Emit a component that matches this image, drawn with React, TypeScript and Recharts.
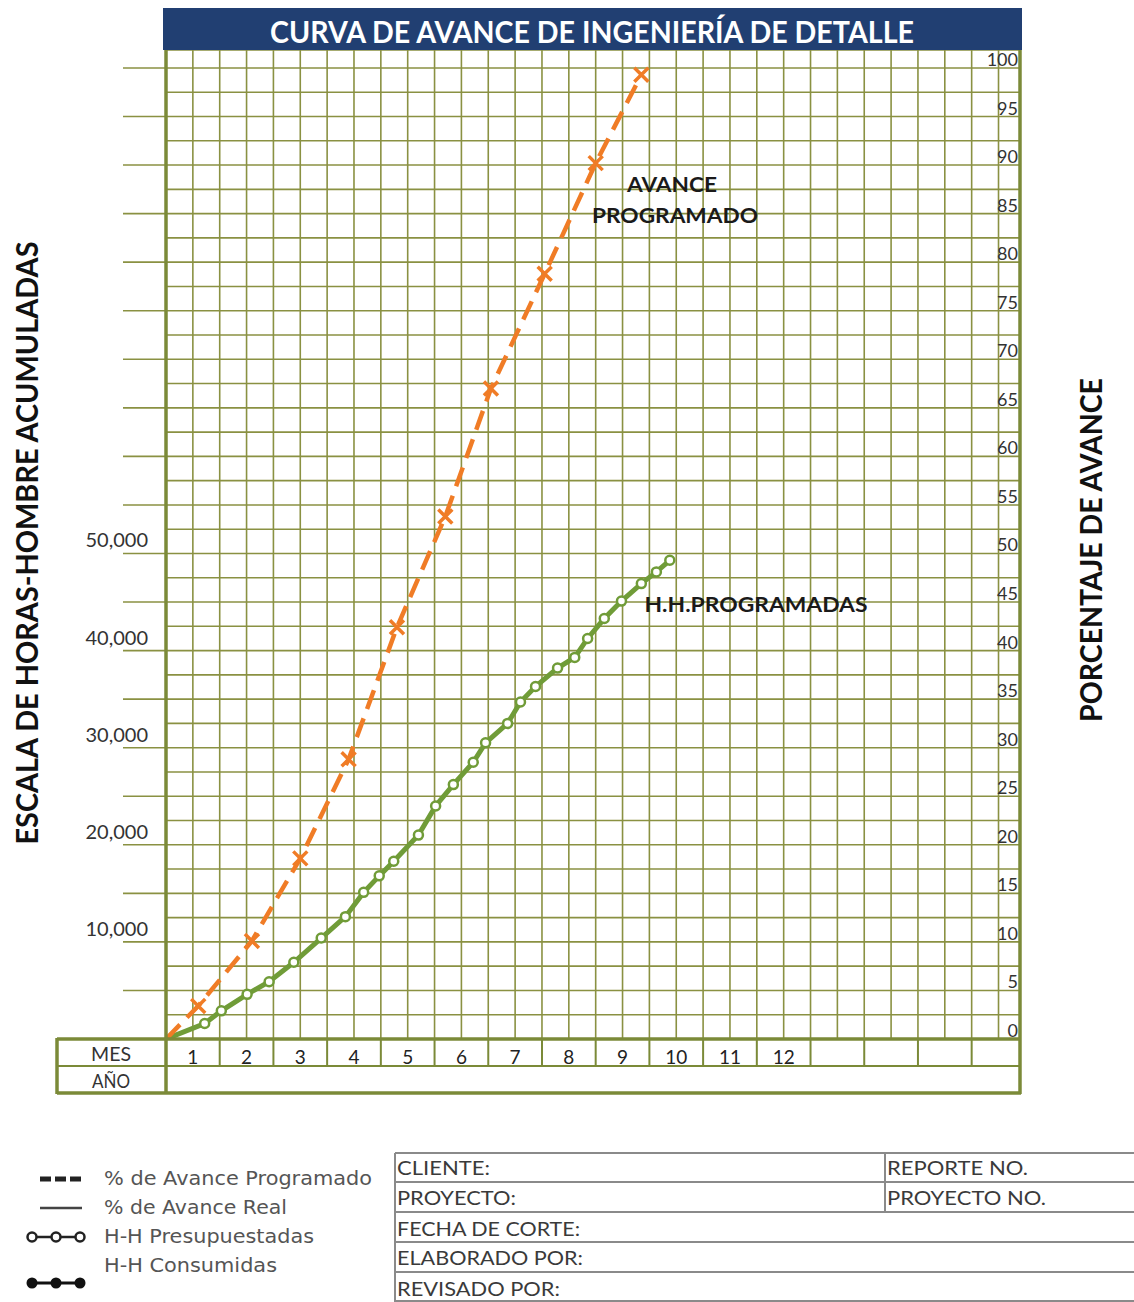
import React from 'react';
import { ComposedChart, Line, XAxis, YAxis, CartesianGrid } from 'recharts';

// lienzo y zona de graficado (px)
const W = 1134;
const H = 1302;
const PLOT_LEFT = 166;
const PLOT_RIGHT = 1020;
const PLOT_TOP = 50;
const PLOT_BOTTOM = 1039;
const AXIS_H = 54;

const MES_MAX = 15.9;
const PCT_MAX = 101.85;
const HH_MAX = PCT_MAX * 1000;

const FONT = "Lato, 'Open Sans', sans-serif";
const LEGEND_FONT = "'DejaVu Sans', Verdana, sans-serif";
const GRID = '#8a9142';
const FRAME = '#7b8a38';
const ORANGE = '#f07c26';
const GREEN = '#709c38';
const NAVY = '#213f72';

// etiquetas de meses (celdas de la fila MES)
const MESES = ['1', '2', '3', '4', '5', '6', '7', '8', '9', '10', '11', '12'];
const MES_LINEAS = [0, 1, 2, 3, 4, 5, 6, 7, 8, 9, 10, 11, 12, 13, 14, 15];

// escala derecha (%) y escala izquierda (H-H)
const PCT_LABELS = [0, 5, 10, 15, 20, 25, 30, 35, 40, 45, 50, 55, 60, 65, 70, 75, 80, 85, 90, 95, 100];
const HH_LABELS = [10000, 20000, 30000, 40000, 50000];
const HH_TICKS = [5000, 10000, 15000, 20000, 25000, 30000, 35000, 40000, 45000, 50000,
  55000, 60000, 65000, 70000, 75000, 80000, 85000, 90000, 95000, 100000];

// % de avance programado
const PROG_MES = [0, 0.6, 1.6, 2.5, 3.4, 4.3, 5.2, 6.05, 7.05, 8.0, 8.85];
const PROG_PCT = [0, 3.4, 10.1, 18.6, 28.8, 42.4, 53.8, 67.0, 78.8, 90.2, 99.3];

// H.H. programadas (acumuladas)
const HH_MES = [0, 0.72, 1.03, 1.51, 1.92, 2.38, 2.89, 3.34, 3.68, 3.97, 4.24, 4.7, 5.02, 5.35,
  5.72, 5.95, 6.36, 6.6, 6.88, 7.29, 7.61, 7.85, 8.16, 8.48, 8.85, 9.13, 9.38];
const HH_VAL = [0, 1600, 2900, 4600, 5900, 7900, 10400, 12600, 15100, 16800, 18300, 21000, 24000, 26200,
  28500, 30500, 32500, 34700, 36300, 38200, 39300, 41250, 43300, 45100, 46900, 48100, 49300];

const progData = PROG_MES.map((mes, i) => ({ mes, pct: PROG_PCT[i] }));
const hhData = HH_MES.map((mes, i) => ({ mes, hh: HH_VAL[i] }));

const X_TICKS = MES_LINEAS.flatMap((m) => [m, m + 0.5]);
const PCT_GRID = PCT_LABELS.flatMap((v) => (v < 100 ? [v, v + 2.5] : [v]));

const XTick = (props: any) => {
  const { x, y, payload } = props;
  const v = payload.value as number;
  if (Number.isInteger(v)) {
    if (v === 0) return <g />;
    return <line x1={x} x2={x} y1={y} y2={y + 27} stroke={FRAME} strokeWidth={2} />;
  }
  const label = MESES[Math.floor(v)];
  if (!label) return <g />;
  return (
    <text x={x} y={y + 17} textAnchor="middle" dominantBaseline="central" fontSize={19} fill="#222" fontFamily={FONT}>
      {label}
    </text>
  );
};

const HHTick = (props: any) => {
  const { x, y, payload } = props;
  const v = payload.value as number;
  if (!HH_LABELS.includes(v)) return <g />;
  return (
    <text x={x + 25} y={y - 14} textAnchor="end" dominantBaseline="central" fontSize={20} fill="#333" fontFamily={FONT}>
      {v.toLocaleString('en-US')}
    </text>
  );
};

const PctTick = (props: any) => {
  const { x, y, payload } = props;
  const v = payload.value as number;
  if (!PCT_LABELS.includes(v)) return <g />;
  return (
    <text x={x - 2} y={y - 9} textAnchor="end" dominantBaseline="central" fontSize={18} fill="#333" fontFamily={FONT}>
      {v}
    </text>
  );
};

const CrossDot = (props: any) => {
  const { cx, cy, index } = props;
  if (index === 0 || cx == null || cy == null) return <g key={`x${index}`} />;
  const s = 7;
  return (
    <path
      key={`x${index}`}
      d={`M${cx - s},${cy - s}L${cx + s},${cy + s}M${cx - s},${cy + s}L${cx + s},${cy - s}`}
      stroke={ORANGE}
      strokeWidth={3.5}
      fill="none"
    />
  );
};

const RingDot = (props: any) => {
  const { cx, cy, index } = props;
  if (index === 0 || cx == null || cy == null) return <g key={`o${index}`} />;
  return <circle key={`o${index}`} cx={cx} cy={cy} r={4.5} fill="#fff" stroke={GREEN} strokeWidth={2.5} />;
};

const T = (p: any) => {
  const { x, y, len, size = 20, weight = 'normal', fill = '#333', anchor = 'start', font = FONT, rot, children } = p;
  return (
    <text
      x={rot ? 0 : x}
      y={rot ? 0 : y}
      transform={rot ? `translate(${x},${y}) rotate(${rot})` : undefined}
      textAnchor={anchor}
      dominantBaseline="central"
      fontSize={size}
      fontWeight={weight}
      fill={fill}
      fontFamily={font}
      textLength={len}
      lengthAdjust="spacingAndGlyphs"
    >
      {children}
    </text>
  );
};

const tabla = [
  { t: 'CLIENTE:', y: 1167, len: 93 },
  { t: 'PROYECTO:', y: 1197, len: 119 },
  { t: 'FECHA DE CORTE:', y: 1228, len: 183 },
  { t: 'ELABORADO POR:', y: 1257, len: 186 },
  { t: 'REVISADO POR:', y: 1288, len: 163 },
];

function Overlay() {
  const rowY = [1153, 1182, 1212, 1242, 1272, 1301];
  return (
    <svg width={W} height={H} style={{ position: 'absolute', left: 0, top: 0, pointerEvents: 'none' }}>
      {/* barra de titulo */}
      <rect x={163} y={8} width={859} height={42} fill={NAVY} />
      <T x={592} y={31} len={644} size={30} weight="bold" fill="#fff" anchor="middle">
        CURVA DE AVANCE DE INGENIERÍA DE DETALLE
      </T>

      {/* marco */}
      <g stroke={FRAME} strokeWidth={3.5} fill="none">
        <line x1={PLOT_LEFT} x2={PLOT_LEFT} y1={PLOT_TOP} y2={1094} />
        <line x1={PLOT_RIGHT} x2={PLOT_RIGHT} y1={PLOT_TOP} y2={1094} />
        <line x1={57} x2={PLOT_RIGHT + 1} y1={PLOT_BOTTOM} y2={PLOT_BOTTOM} />
        <line x1={57} x2={PLOT_RIGHT + 1} y1={1093} y2={1093} />
        <line x1={57} x2={57} y1={PLOT_BOTTOM - 1} y2={1094} />
      </g>
      <line x1={57} x2={PLOT_RIGHT} y1={1066} y2={1066} stroke={FRAME} strokeWidth={2} />
      <T x={111} y={1053} size={19} anchor="middle" len={40}>MES</T>
      <T x={111} y={1080} size={19} anchor="middle" len={38}>AÑO</T>

      {/* titulos de ejes */}
      <T x={26} y={543} rot={-90} len={603} size={30} weight="bold" fill="#111" anchor="middle">
        ESCALA DE HORAS-HOMBRE ACUMULADAS
      </T>
      <T x={1090} y={550} rot={-90} len={344} size={30} weight="bold" fill="#111" anchor="middle">
        PORCENTAJE DE AVANCE
      </T>

      {/* anotaciones */}
      <T x={672} y={183} len={90} size={21} weight="bold" fill="#1a1a1a" anchor="middle">AVANCE</T>
      <T x={675} y={214} len={166} size={21} weight="bold" fill="#1a1a1a" anchor="middle">PROGRAMADO</T>
      <T x={756} y={603} len={223} size={21} weight="bold" fill="#1a1a1a" anchor="middle">H.H.PROGRAMADAS</T>

      {/* leyenda */}
      <line x1={40} x2={82} y1={1179} y2={1179} stroke="#222" strokeWidth={5} strokeDasharray="11 4" />
      <line x1={40} x2={82} y1={1208} y2={1208} stroke="#444" strokeWidth={2.5} />
      <line x1={32} x2={80} y1={1237} y2={1237} stroke="#222" strokeWidth={2.5} />
      {[32, 56, 80].map((cx) => (
        <circle key={`lp${cx}`} cx={cx} cy={1237} r={4.5} fill="#fff" stroke="#222" strokeWidth={2.5} />
      ))}
      <line x1={32} x2={80} y1={1283} y2={1283} stroke="#111" strokeWidth={3} />
      {[32, 56, 80].map((cx) => (
        <circle key={`lc${cx}`} cx={cx} cy={1283} r={5.5} fill="#111" />
      ))}
      <T x={104} y={1178} len={268} size={19} fill="#555" font={LEGEND_FONT}>% de Avance Programado</T>
      <T x={104} y={1207} len={183} size={19} fill="#555" font={LEGEND_FONT}>% de Avance Real</T>
      <T x={104} y={1236} len={210} size={19} fill="#555" font={LEGEND_FONT}>H-H Presupuestadas</T>
      <T x={104} y={1265} len={173} size={19} fill="#555" font={LEGEND_FONT}>H-H Consumidas</T>

      {/* cuadro de datos */}
      <g stroke="#8a8a8a" strokeWidth={2}>
        {rowY.map((y) => (
          <line key={`r${y}`} x1={395} x2={W} y1={y} y2={y} />
        ))}
        <line x1={395} x2={395} y1={1153} y2={1302} />
        <line x1={885} x2={885} y1={1153} y2={1212} />
      </g>
      {tabla.map((r) => (
        <T key={r.t} x={397} y={r.y} len={r.len} size={20} fill="#3a3a3a">{r.t}</T>
      ))}
      <T x={887} y={1167} len={141} size={20} fill="#3a3a3a">REPORTE NO.</T>
      <T x={887} y={1197} len={159} size={20} fill="#3a3a3a">PROYECTO NO.</T>
    </svg>
  );
}

export default function App() {
  return (
    <div style={{ position: 'absolute', left: 0, top: 0, width: W, height: H, background: '#fff' }}>
      <ComposedChart
        width={W}
        height={H}
        margin={{ top: PLOT_TOP, right: 0, bottom: H - PLOT_BOTTOM - AXIS_H, left: 0 }}
      >
        <CartesianGrid xAxisId="m" yAxisId="pct" stroke={GRID} strokeWidth={1.6} />
        <XAxis
          xAxisId="m"
          type="number"
          dataKey="mes"
          domain={[0, MES_MAX]}
          allowDataOverflow
          ticks={X_TICKS}
          interval={0}
          tickSize={0}
          tickMargin={0}
          tickLine={false}
          axisLine={false}
          tick={XTick}
          height={AXIS_H}
        />
        <YAxis
          yAxisId="hh"
          orientation="left"
          width={PLOT_LEFT}
          domain={[0, HH_MAX]}
          allowDataOverflow
          ticks={HH_TICKS}
          interval={0}
          tickSize={43}
          tickMargin={0}
          tickLine={{ stroke: GRID, strokeWidth: 1.6 }}
          axisLine={false}
          tick={HHTick}
        />
        <YAxis
          yAxisId="pct"
          orientation="right"
          width={W - PLOT_RIGHT}
          domain={[0, PCT_MAX]}
          allowDataOverflow
          ticks={PCT_GRID}
          interval={0}
          tickSize={0}
          tickMargin={0}
          tickLine={false}
          axisLine={false}
          tick={PctTick}
        />
        <Line
          xAxisId="m"
          yAxisId="hh"
          data={hhData}
          dataKey="hh"
          type="linear"
          stroke={GREEN}
          strokeWidth={5}
          dot={RingDot}
          activeDot={false}
          isAnimationActive={false}
        />
        <Line
          xAxisId="m"
          yAxisId="pct"
          data={progData}
          dataKey="pct"
          type="linear"
          stroke={ORANGE}
          strokeWidth={4.5}
          strokeDasharray="20 10"
          dot={CrossDot}
          activeDot={false}
          isAnimationActive={false}
        />
      </ComposedChart>
      <Overlay />
    </div>
  );
}
